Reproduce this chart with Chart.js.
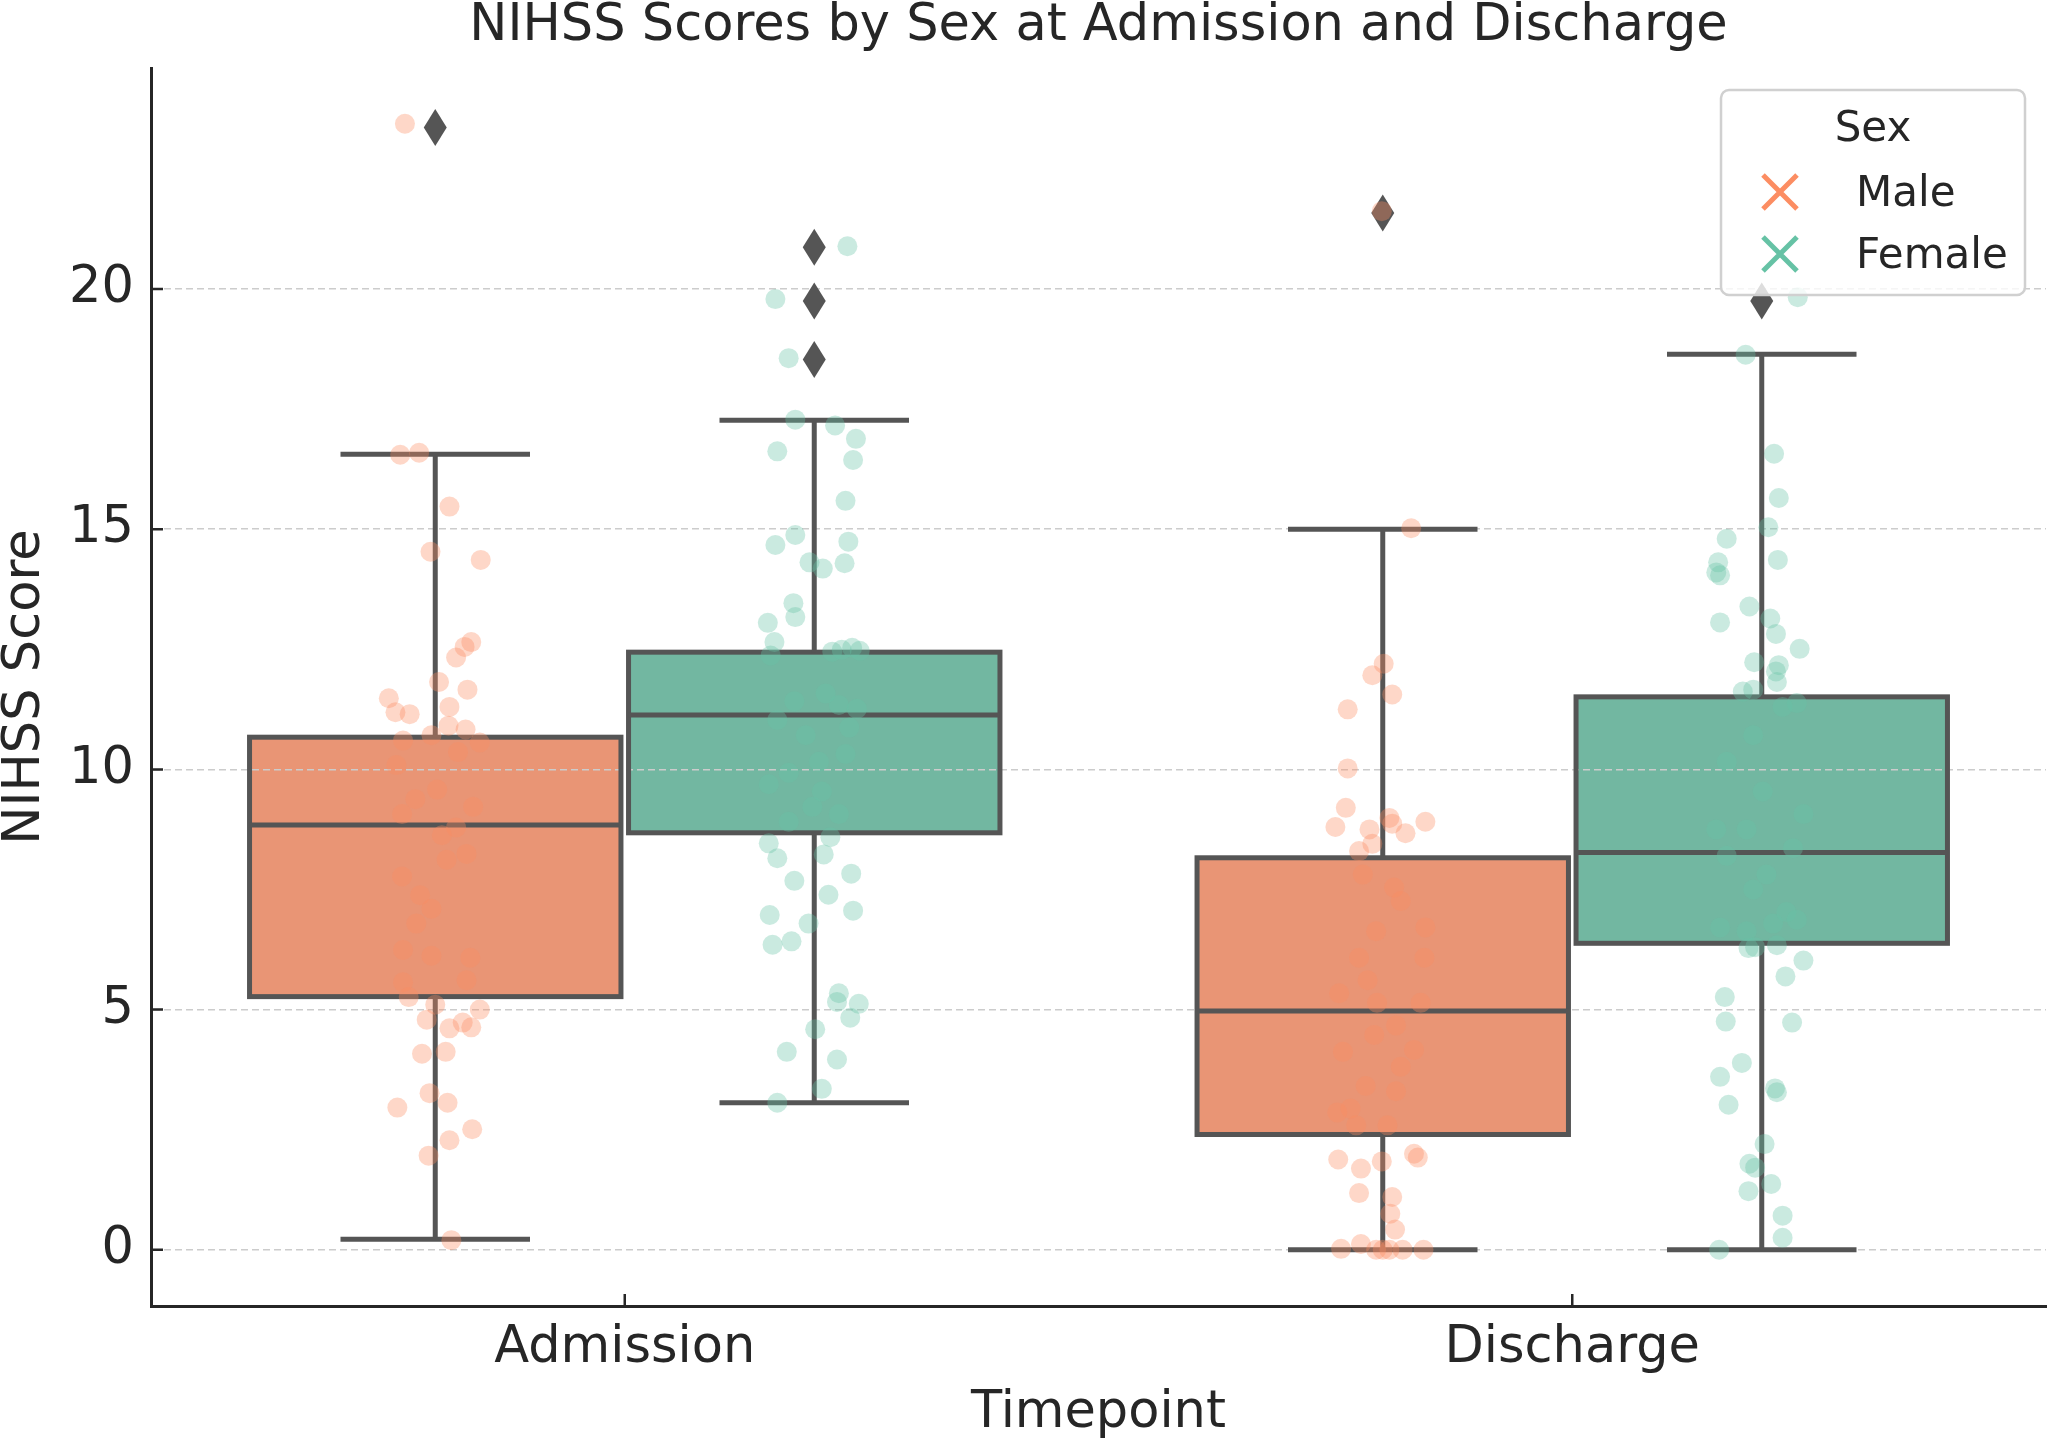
<!DOCTYPE html>
<html lang="en">
<head>
  <meta charset="UTF-8">
  <title>NIHSS Scores by Sex</title>
  <script src="https://cdn.jsdelivr.net/npm/chart.js"></script>
  <style>
    body{
      margin: 0;
      background: #fff;
    }
    #nihssChart{
      display: block;
      width: 2056px;
      height: 1442px;
    }
  </style>
</head>
<body>
  <canvas id="nihssChart" width="2056" height="1442"></canvas>

<script>
  // categories
  const timepoints = ['Admission', 'Discharge'];
  const sexes = ['Male', 'Female'];
  const chartTitle = 'NIHSS Scores by Sex at Admission and Discharge';

  // box stats, order: Admission-Male, Admission-Female, Discharge-Male, Discharge-Female
  const boxLow    = [0.22, 3.06, 0, 0];
  const boxQ1     = [5.27, 8.68, 2.40, 6.38];
  const boxMedian = [8.84, 11.13, 4.97, 8.27];
  const boxQ3     = [10.67, 12.44, 8.16, 11.51];
  const boxHigh   = [16.56, 17.27, 15.0, 18.64];
  const fliers    = [[23.36], [20.87, 19.75, 18.53], [21.58], [19.75]];

  // individual scores (strip points) and their jitter
  const admMaleScores = [23.44, 16.55, 16.59, 15.47, 14.53, 14.36, 12.65, 12.55, 12.33, 11.82, 11.66, 11.48, 11.19, 11.15,
    11.30, 10.91, 10.83, 10.71, 10.60, 10.56, 10.36, 10.09, 9.58, 9.38, 9.22, 9.07, 8.79, 8.63, 8.24, 8.12, 7.77, 7.38,
    7.10, 6.79, 6.24, 6.12, 6.08, 5.61, 5.57, 5.26, 5.10, 5.00, 4.79, 4.73, 4.61, 4.63, 4.08, 4.12, 3.26, 2.96, 3.06,
    2.51, 2.28, 1.96, 0.20];
  const admMaleJitter = [-0.032, -0.037, -0.017, 0.015, -0.005, 0.048, 0.038, 0.031, 0.022, 0.004, 0.034, -0.049, -0.042, -0.027,
    0.015, 0.014, 0.032, -0.004, -0.034, 0.047, 0.024, -0.041, 0.002, -0.021, 0.040, -0.035, 0.022, 0.007, 0.033, 0.012, -0.035, -0.016,
    -0.004, -0.020, -0.034, -0.004, 0.037, 0.033, -0.034, -0.028, 0.000, 0.047, -0.009, 0.029, 0.015, 0.038, -0.014, 0.011, -0.006, -0.040, 0.013,
    0.039, 0.015, -0.007, 0.017];

  const admFemaleScores = [20.89, 19.79, 18.56, 17.28, 17.16, 16.88, 16.44, 16.62, 15.59, 14.88, 14.67, 14.74, 14.31, 14.18,
    14.29, 13.46, 13.17, 13.05, 12.65, 12.45, 12.53, 12.47, 12.49, 12.37, 11.03, 11.42, 11.34, 11.26, 11.58, 10.71, 10.32,
    9.93, 9.54, 9.07, 8.91, 9.22, 9.69, 10.87, 10.16, 8.46, 8.59, 8.15, 8.23, 7.68, 7.83, 7.39, 6.97, 7.06, 6.79, 6.35,
    6.42, 5.34, 5.16, 5.12, 4.83, 4.59, 4.12, 3.96, 3.35, 3.06];
  const admFemaleJitter = [0.035, -0.041, -0.027, -0.020, 0.022, 0.044, 0.041, -0.039, 0.033, -0.020, -0.041, 0.036, -0.005, 0.009,
    0.032, -0.022, -0.020, -0.049, -0.042, 0.019, 0.040, 0.048, 0.029, -0.046, -0.039, -0.021, 0.026, 0.045, 0.012, -0.009, 0.033,
    -0.027, 0.008, 0.026, -0.027, -0.002, -0.048, 0.037, 0.005, -0.048, 0.017, -0.039, 0.010, -0.021, 0.039, 0.015, -0.047, 0.041, -0.006, -0.044,
    -0.024, 0.026, 0.024, 0.047, 0.038, 0.001, -0.029, 0.024, 0.008, -0.039];

  const disMaleScores = [21.62, 15.02, 12.20, 11.96, 11.56, 11.25, 10.02, 9.20, 8.80, 8.99, 8.87, 8.91, 8.67, 8.75, 8.45,
    8.30, 7.81, 7.54, 7.26, 6.71, 6.63, 6.08, 6.08, 5.61, 5.34, 5.14, 5.14, 4.67, 4.47, 4.16, 4.12, 3.81, 3.41, 3.30,
    2.86, 2.94, 2.59, 2.59, 2.00, 1.88, 1.69, 1.84, 1.92, 1.18, 1.10, 0.75, 0.42, 0.02, 0.12, 0, 0, 0, 0, 0];
  const disMaleJitter = [-0.001, 0.030, 0.001, -0.011, 0.010, -0.037, -0.037, -0.039, -0.050, 0.007, 0.010, 0.045, 0.024, -0.014, -0.011,
    -0.025, -0.021, 0.012, 0.019, 0.045, -0.007, -0.025, 0.044, -0.016, -0.046, -0.006, 0.040, 0.014, -0.009, 0.033, -0.042, 0.019, -0.018, 0.014,
    -0.048, -0.034, -0.028, 0.005, 0.033, -0.047, -0.023, -0.001, 0.037, -0.025, 0.010, 0.008, 0.013, -0.044, -0.023, -0.007, 0.000, 0.007, 0.021, 0.043];

  const disFemaleScores = [19.83, 18.63, 16.57, 15.65, 14.80, 15.04, 14.31, 14.04, 14.10, 14.36, 13.39, 13.06, 13.14, 12.82,
    12.51, 12.23, 12.04, 12.17, 11.82, 11.62, 11.66, 11.30, 11.38, 10.16, 10.71, 8.75, 8.75, 8.36, 8.20, 7.81, 7.50, 7.03,
    6.71, 6.63, 6.79, 9.07, 9.54, 6.87, 6.28, 6.30, 6.34, 6.02, 5.69, 5.26, 4.75, 4.73, 3.89, 3.60, 3.36, 3.28, 3.02,
    2.20, 1.79, 1.71, 1.37, 1.22, 0.71, 0.25, 0.00];
  const disFemaleJitter = [0.038, -0.017, 0.013, 0.018, -0.037, 0.007, -0.046, -0.044, -0.048, 0.017, -0.013, -0.044, 0.009, 0.015,
    0.040, -0.008, 0.015, 0.018, 0.016, -0.020, -0.009, 0.022, 0.037, -0.037, -0.009, -0.048, -0.016, 0.033, -0.037, 0.005, -0.009, 0.026,
    -0.044, -0.016, 0.012, 0.044, 0.001, 0.037, -0.014, -0.007, 0.016, 0.044, 0.025, -0.039, -0.038, 0.032, -0.021, -0.044, 0.014, 0.016, -0.035,
    0.003, -0.013, -0.007, 0.010, -0.014, 0.022, 0.022, -0.045];

  const yTicks = [0, 5, 10, 15, 20];

  // colours (seaborn Set2, boxes desaturated)
  const pointColors = ['rgba(252, 141, 98, 0.35)', 'rgba(102, 194, 165, 0.35)'];
  const markColors = ['#fc8d62', '#66c2a5'];
  const boxColors = ['#e99575', '#72b7a1'];
  const lineGray = '#555555';
  const textColor = '#262626';

  const dodge = 0.2;       // hue offset from category centre
  const boxHalf = 0.196;
  const capHalf = 0.1;

  function groupX(i) {
    const cat = Math.floor(i / 2);
    const sex = i % 2;
    return cat + (sex === 0 ? -dodge : dodge);
  }

  function stripData(scores, jitter, groupIndex) {
    return scores.map((v, i) => ({ x: groupX(groupIndex) + jitter[i], y: v }));
  }

  Chart.defaults.font.family = "'DejaVu Sans', sans-serif";
  Chart.defaults.color = textColor;

  // box fills go under the grid lines, like matplotlib patches
  const boxFillPlugin = {
    id: 'boxFill',
    beforeDraw(chart) {
      const { ctx, scales: { x, y } } = chart;
      ctx.save();
      for (let i = 0; i < 4; i++) {
        const cx = groupX(i);
        const l = x.getPixelForValue(cx - boxHalf);
        const r = x.getPixelForValue(cx + boxHalf);
        const t = y.getPixelForValue(boxQ3[i]);
        const b = y.getPixelForValue(boxQ1[i]);
        ctx.fillStyle = boxColors[i % 2];
        ctx.fillRect(l, t, r - l, b - t);
      }
      ctx.restore();
    }
  };

  // edges, whiskers, medians, fliers: over grid, under the strip points
  const boxLinesPlugin = {
    id: 'boxLines',
    beforeDatasetsDraw(chart) {
      const { ctx, scales: { x, y } } = chart;
      ctx.save();
      ctx.strokeStyle = lineGray;
      ctx.lineWidth = 5;
      for (let i = 0; i < 4; i++) {
        const cx = groupX(i);
        const c = x.getPixelForValue(cx);
        const l = x.getPixelForValue(cx - boxHalf);
        const r = x.getPixelForValue(cx + boxHalf);
        const cl = x.getPixelForValue(cx - capHalf);
        const cr = x.getPixelForValue(cx + capHalf);
        const q1 = y.getPixelForValue(boxQ1[i]);
        const q3 = y.getPixelForValue(boxQ3[i]);
        const med = y.getPixelForValue(boxMedian[i]);
        const lo = y.getPixelForValue(boxLow[i]);
        const hi = y.getPixelForValue(boxHigh[i]);

        ctx.strokeRect(l, q3, r - l, q1 - q3);
        ctx.beginPath();
        ctx.moveTo(c, q3); ctx.lineTo(c, hi);
        ctx.moveTo(c, q1); ctx.lineTo(c, lo);
        ctx.moveTo(cl, hi); ctx.lineTo(cr, hi);
        ctx.moveTo(cl, lo); ctx.lineTo(cr, lo);
        ctx.moveTo(l, med); ctx.lineTo(r, med);
        ctx.stroke();

        // thin diamond fliers
        ctx.fillStyle = lineGray;
        fliers[i].forEach(v => {
          const py = y.getPixelForValue(v);
          ctx.beginPath();
          ctx.moveTo(c, py - 18.5);
          ctx.lineTo(c + 11.5, py);
          ctx.lineTo(c, py + 18.5);
          ctx.lineTo(c - 11.5, py);
          ctx.closePath();
          ctx.fill();
        });
      }
      ctx.restore();
    }
  };

  // title over the plot area, inward tick marks, the inset "Sex" legend
  const overlayPlugin = {
    id: 'overlay',
    afterDraw(chart) {
      const { ctx, chartArea: a, scales: { x, y } } = chart;
      ctx.save();
      ctx.fillStyle = textColor;
      ctx.font = "51px 'DejaVu Sans'";
      ctx.textAlign = 'center';
      ctx.textBaseline = 'middle';
      ctx.fillText(chartTitle, (a.left + a.right) / 2, 27);

      ctx.strokeStyle = textColor;
      ctx.lineWidth = 2.5;
      ctx.beginPath();
      yTicks.forEach(v => {
        const py = y.getPixelForValue(v);
        ctx.moveTo(a.left, py); ctx.lineTo(a.left + 12, py);
      });
      timepoints.forEach((t, i) => {
        const px = x.getPixelForValue(i);
        ctx.moveTo(px, a.bottom); ctx.lineTo(px, a.bottom - 12);
      });
      ctx.stroke();

      const w = 304, h = 205;
      const left = a.right - 21 - w, top = a.top + 22;
      ctx.beginPath();
      ctx.roundRect(left, top, w, h, 8);
      ctx.fillStyle = 'rgba(255, 255, 255, 0.8)';
      ctx.fill();
      ctx.strokeStyle = '#d0d0d0';
      ctx.lineWidth = 2.5;
      ctx.stroke();

      ctx.fillStyle = textColor;
      ctx.font = "42px 'DejaVu Sans'";
      ctx.textBaseline = 'middle';
      ctx.textAlign = 'center';
      ctx.fillText('Sex', left + w / 2, top + 40);
      ctx.textAlign = 'left';
      sexes.forEach((s, i) => {
        const my = top + 102 + i * 62;
        const mx = left + 59;
        ctx.strokeStyle = markColors[i];
        ctx.lineWidth = 5;
        ctx.beginPath();
        ctx.moveTo(mx - 17, my - 17); ctx.lineTo(mx + 17, my + 17);
        ctx.moveTo(mx + 17, my - 17); ctx.lineTo(mx - 17, my + 17);
        ctx.stroke();
        ctx.fillStyle = textColor;
        ctx.fillText(s, left + 135, my + 3);
      });
      ctx.restore();
    }
  };

  function pointSet(label, scores, jitter, groupIndex) {
    return {
      label: label,
      data: stripData(scores, jitter, groupIndex),
      backgroundColor: pointColors[groupIndex % 2],
      borderWidth: 0,
      pointRadius: 10,
      pointHoverRadius: 10
    };
  }

  new Chart(document.getElementById('nihssChart'), {
    type: 'scatter',
    data: {
      datasets: [
        pointSet('Admission Male', admMaleScores, admMaleJitter, 0),
        pointSet('Admission Female', admFemaleScores, admFemaleJitter, 1),
        pointSet('Discharge Male', disMaleScores, disMaleJitter, 2),
        pointSet('Discharge Female', disFemaleScores, disFemaleJitter, 3)
      ]
    },
    options: {
      responsive: false,
      animation: false,
      devicePixelRatio: 1,
      layout: { padding: { left: 0, right: 3, top: 68, bottom: 0 } },
      plugins: {
        legend: { display: false },
        tooltip: { enabled: false },
        title: { display: false }
      },
      scales: {
        x: {
          type: 'linear',
          min: -0.5,
          max: 1.5,
          afterBuildTicks: s => { s.ticks = timepoints.map((t, i) => ({ value: i })); },
          afterFit: s => { s.height = 136; },
          ticks: {
            callback: v => timepoints[v],
            font: { size: 51 },
            color: textColor,
            padding: 12,
            maxRotation: 0
          },
          grid: { drawOnChartArea: false, drawTicks: false },
          border: { display: true, color: textColor, width: 3 },
          title: {
            display: true,
            text: 'Timepoint',
            color: textColor,
            font: { size: 51, lineHeight: 1.0 },
            padding: { top: 0, bottom: 3 }
          }
        },
        y: {
          min: -1.17,
          max: 24.6,
          afterBuildTicks: s => { s.ticks = yTicks.map(v => ({ value: v })); },
          afterFit: s => { s.width = 151; },
          ticks: {
            font: { size: 51 },
            color: textColor,
            padding: 17
          },
          grid: { color: '#cccccc', lineWidth: 1.5, drawTicks: false },
          border: { display: true, color: textColor, width: 3, dash: [7, 4] },
          title: {
            display: true,
            text: 'NIHSS Score',
            color: textColor,
            font: { size: 51, lineHeight: 1.0 },
            padding: { top: 0, bottom: 0 }
          }
        }
      }
    },
    plugins: [boxFillPlugin, boxLinesPlugin, overlayPlugin]
  });
</script>
</body>
</html>
